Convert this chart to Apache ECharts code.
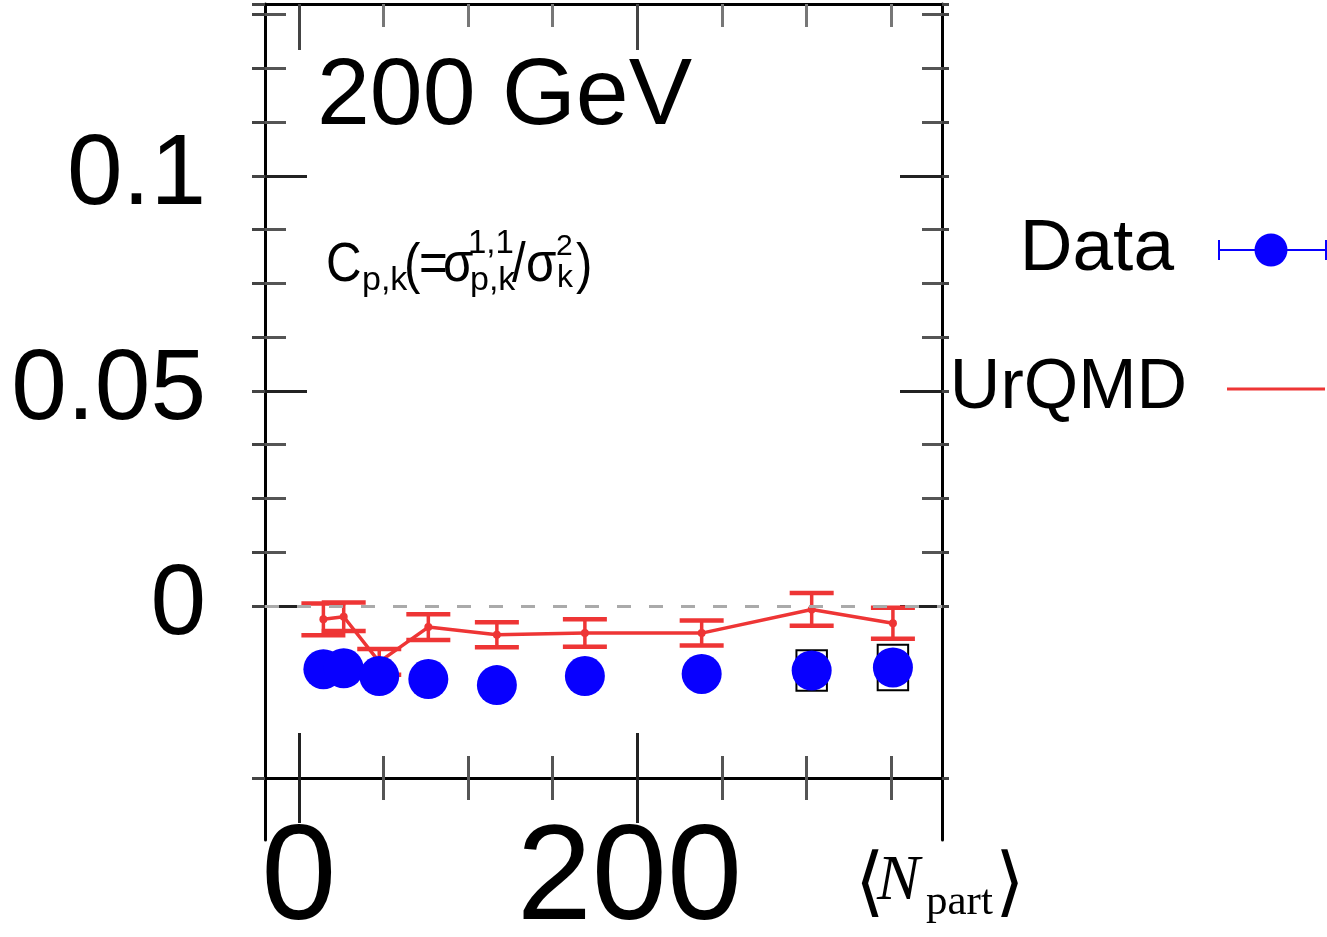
<!DOCTYPE html>
<html>
<head>
<meta charset="utf-8">
<script src="https://cdn.jsdelivr.net/npm/echarts@6/dist/echarts.min.js"></script>
<style>
html,body{margin:0;padding:0;background:#fff;}
#chart{width:1327px;height:937px;}
</style>
</head>
<body>
<div id="chart"></div>
<script>
// ---- data ----
const NPART = [14.5, 26.5, 47.5, 76.5, 117, 169, 238, 303, 351];
const DATA_C = [-0.0147, -0.0145, -0.0163, -0.0170, -0.0184, -0.0163, -0.0158, -0.0150, -0.0143];
const DATA_SYS = [0, 0, 0, 0, 0, 0, 0, 0.0047, 0.0053];
const URQMD_C = [-0.0031, -0.0025, -0.0130, -0.0049, -0.0067, -0.0063, -0.0063, -0.0008, -0.0040];
const URQMD_ERR = [0.0037, 0.0033, 0.0030, 0.0030, 0.0029, 0.0032, 0.0029, 0.0038, 0.0036];

// ---- axes / ticks ----
const X_MIN = -20, X_MAX = 380;
const Y_MIN = -0.054419, Y_MAX = 0.14;
const X_MAJOR_TICKS = [0, 200];
const X_MINOR_TICKS = [50, 100, 150, 250, 300, 350];
const X_TICK_LABELS = [0, 200];
const Y_MAJOR_TICKS = [0, 0.05, 0.1];
const Y_MINOR_TICKS = [0.0125, 0.025, 0.0375, 0.0625, 0.075, 0.0875, 0.1125, 0.125, 0.1375];
const Y_OUTER_TICKS = [-0.04, 0, 0.0125, 0.025, 0.0375, 0.05, 0.0625, 0.075, 0.0875, 0.1, 0.1125, 0.125, 0.1375, 0.14];
const Y_TICK_LABELS = [0, 0.05, 0.1];
const SYS_HALF_WIDTH = 9;

const SANS = "'Liberation Sans', Arial, Helvetica, sans-serif";
const SERIF = "'Liberation Serif', 'DejaVu Serif', 'Times New Roman', serif";
const RED = '#ee3535';
const BLUE = '#0800ff';

const chart = echarts.init(document.getElementById('chart'), null, {renderer: 'canvas'});

function xAx(opts) {
  return Object.assign({
    type: 'value', min: X_MIN, max: X_MAX, position: 'bottom', offset: -62,
    axisLine: {show: false, onZero: false},
    splitLine: {show: false},
    axisLabel: {show: false},
    axisTick: {show: false}
  }, opts);
}
function yAx(opts) {
  return Object.assign({
    type: 'value', min: Y_MIN, max: Y_MAX, position: 'left',
    axisLine: {show: false, onZero: false},
    splitLine: {show: false},
    axisLabel: {show: false},
    axisTick: {show: false}
  }, opts);
}
function txt(x, y, text, size, extra) {
  return Object.assign({type: 'text', x: x, y: y,
    style: Object.assign({text: text, fontSize: size, fontFamily: SANS, fill: '#000', align: 'left', verticalAlign: 'middle'}, (extra && extra.style) || {})},
    (extra && extra.el) || {});
}

const dataPts = NPART.map((x, i) => [x, DATA_C[i]]);
const sysPts = NPART.map((x, i) => [x, DATA_C[i], DATA_SYS[i]]).filter(d => d[2] > 0);
const urqmdPts = NPART.map((x, i) => [x, URQMD_C[i]]);
const urqmdErr = NPART.map((x, i) => [x, URQMD_C[i], URQMD_ERR[i]]);

const COND = {el: {scaleX: 0.88}};

const option = {
  animation: false,
  backgroundColor: '#fff',
  grid: {left: 265, right: 385, top: 4, bottom: 97, containLabel: false, outerBoundsMode: 'none'},
  xAxis: [
    xAx({
      axisLine: {show: true, onZero: false, lineStyle: {color: '#000', width: 3}},
      axisTick: {show: true, inside: true, length: 45, customValues: X_MAJOR_TICKS, lineStyle: {color: '#222', width: 3}},
      axisLabel: {
        show: true, customValues: X_TICK_LABELS, margin: 36,
        fontSize: 135, lineHeight: 135, fontFamily: SANS, color: '#000',
        formatter: v => (v === 200 ? '{s|200}' : String(v)),
        rich: {s: {fontSize: 135, lineHeight: 135, fontFamily: SANS, color: '#000', padding: [0, 16, 0, 0]}}
      }
    }),
    xAx({axisTick: {show: true, inside: true, length: 22, customValues: X_MINOR_TICKS, lineStyle: {color: '#555', width: 3}}}),
    xAx({axisTick: {show: true, inside: false, length: 45, customValues: X_MAJOR_TICKS, lineStyle: {color: '#222', width: 3}}}),
    xAx({axisTick: {show: true, inside: false, length: 22, customValues: X_MINOR_TICKS, lineStyle: {color: '#555', width: 3}}}),
    xAx({position: 'top', offset: 0,
      axisLine: {show: true, onZero: false, lineStyle: {color: '#000', width: 3}},
      axisTick: {show: true, inside: true, length: 46, customValues: X_MAJOR_TICKS, lineStyle: {color: '#444', width: 3}}}),
    xAx({position: 'top', offset: 0,
      axisTick: {show: true, inside: true, length: 23, customValues: X_MINOR_TICKS, lineStyle: {color: '#777', width: 3}}})
  ],
  yAxis: [
    yAx({
      axisLine: {show: true, onZero: false, lineStyle: {color: '#000', width: 3}},
      axisTick: {show: true, inside: true, length: 42, customValues: Y_MAJOR_TICKS, lineStyle: {color: '#222', width: 3}},
      axisLabel: {
        show: true, customValues: Y_TICK_LABELS, margin: 59,
        fontSize: 100, lineHeight: 100, fontFamily: SANS, color: '#000',
        padding: [0, 0, 30, 0]
      }
    }),
    yAx({axisTick: {show: true, inside: true, length: 21, customValues: Y_MINOR_TICKS, lineStyle: {color: '#555', width: 3}}}),
    yAx({axisTick: {show: true, inside: false, length: 13, customValues: Y_OUTER_TICKS, lineStyle: {color: '#444', width: 3}}}),
    yAx({position: 'right',
      axisLine: {show: true, onZero: false, lineStyle: {color: '#000', width: 3}},
      axisTick: {show: true, inside: true, length: 42, customValues: Y_MAJOR_TICKS, lineStyle: {color: '#222', width: 3}}}),
    yAx({position: 'right',
      axisTick: {show: true, inside: true, length: 20, customValues: Y_MINOR_TICKS, lineStyle: {color: '#555', width: 3}}}),
    yAx({position: 'right',
      axisTick: {show: true, inside: false, length: 7, customValues: Y_OUTER_TICKS, lineStyle: {color: '#444', width: 3}}})
  ],
  legend: [
    {
      selectedMode: false, right: 0, top: 213.5, padding: 0, orient: 'vertical', align: 'right',
      itemWidth: 109, itemHeight: 33,
      data: [{name: 'Data', icon: 'path://M0,15.5H37V17.5H0Z M0,6.5H2V26.5H0Z M69,15.5H109V17.5H69Z M107,6.5H109V26.5H107Z M36.5,16.5A16.5,16.5,0,1,1,69.5,16.5A16.5,16.5,0,1,1,36.5,16.5Z'}],
      textStyle: {fontSize: 73, lineHeight: 73, fontFamily: SANS, color: '#000', padding: [0, 39, 0, 0]}
    },
    {
      selectedMode: false, right: 2, top: 354, padding: 0, orient: 'vertical', align: 'right',
      itemWidth: 98, itemHeight: 3,
      data: [{name: 'UrQMD', icon: 'rect'}],
      textStyle: {fontSize: 70, lineHeight: 70, fontFamily: SANS, color: '#000', padding: [0, 35, 0, 0]}
    }
  ],
  graphic: [
    txt(317, 98, '200 GeV', 95),
    txt(326, 266, 'C', 56, COND),
    txt(362, 281, 'p,k', 34),
    txt(404, 267, '(', 56, COND),
    txt(419, 266, '=', 56, COND),
    txt(443, 266, 'σ', 56, COND),
    txt(468, 244, '1,1', 33),
    txt(470, 281, 'p,k', 34),
    txt(512, 266, '/', 56, COND),
    txt(526, 266, 'σ', 56, COND),
    txt(556, 247, '2', 30),
    txt(557, 278, 'k', 32),
    txt(576, 267, ')', 56, COND),
    txt(855, 887, '⟨', 76, {style: {fontFamily: SERIF}}),
    txt(877, 882, 'N', 64, {style: {fontFamily: SERIF, fontStyle: 'italic'}}),
    txt(926, 903, 'part', 43, {style: {fontFamily: SERIF}}),
    txt(995, 887, '⟩', 76, {style: {fontFamily: SERIF}})
  ],
  series: [
    {
      name: 'sys', type: 'custom', xAxisIndex: 0, yAxisIndex: 0, z: 1,
      data: sysPts,
      encode: {x: 0, y: 1},
      renderItem: function (params, api) {
        const x = api.value(0), y = api.value(1), s = api.value(2);
        const p1 = api.coord([x - SYS_HALF_WIDTH, y + s]);
        const p2 = api.coord([x + SYS_HALF_WIDTH, y - s]);
        return {type: 'rect', shape: {x: p1[0], y: p1[1], width: p2[0] - p1[0], height: p2[1] - p1[1]},
          style: {fill: 'none', stroke: '#000', lineWidth: 2}};
      },
      markLine: {
        silent: true, symbol: 'none', label: {show: false},
        lineStyle: {color: '#aaa', type: [14, 18], width: 3},
        data: [{yAxis: 0}]
      }
    },
    {
      name: 'UrQMD err', type: 'custom', xAxisIndex: 0, yAxisIndex: 0, z: 3,
      data: urqmdErr,
      encode: {x: 0, y: 1},
      renderItem: function (params, api) {
        const x = api.value(0), y = api.value(1), e = api.value(2);
        const t = api.coord([x, y + e]);
        const b = api.coord([x, y - e]);
        const hw = 22;
        return {type: 'group', children: [
          {type: 'line', shape: {x1: t[0], y1: t[1], x2: b[0], y2: b[1]}, style: {stroke: RED, lineWidth: 3.5}},
          {type: 'line', shape: {x1: t[0] - hw, y1: t[1], x2: t[0] + hw, y2: t[1]}, style: {stroke: RED, lineWidth: 4.5}},
          {type: 'line', shape: {x1: b[0] - hw, y1: b[1], x2: b[0] + hw, y2: b[1]}, style: {stroke: RED, lineWidth: 4.5}}
        ]};
      }
    },
    {
      name: 'UrQMD', type: 'line', xAxisIndex: 0, yAxisIndex: 0, z: 3,
      data: urqmdPts,
      symbol: 'circle', symbolSize: 8,
      itemStyle: {color: RED},
      lineStyle: {color: RED, width: 3.5}
    },
    {
      name: 'Data', type: 'scatter', xAxisIndex: 0, yAxisIndex: 0, z: 4,
      data: dataPts,
      symbol: 'circle', symbolSize: 40,
      itemStyle: {color: BLUE, opacity: 1}
    }
  ]
};
chart.setOption(option);
</script>
</body>
</html>
